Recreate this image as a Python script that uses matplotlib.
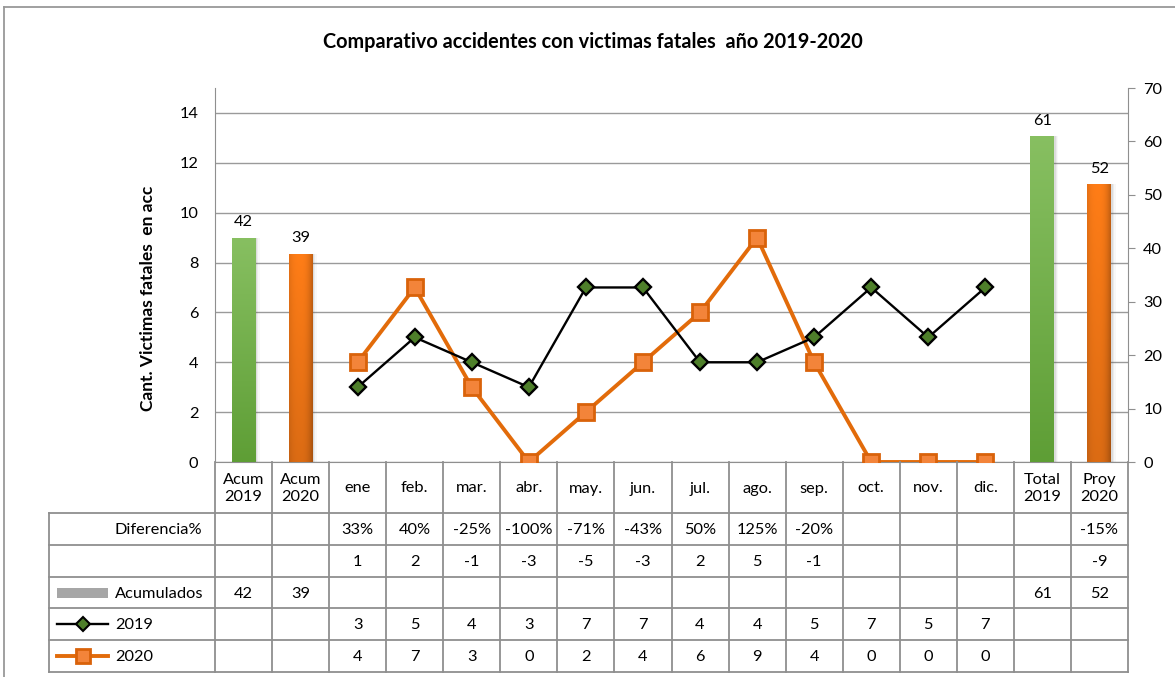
import numpy as np
import matplotlib
matplotlib.use("Agg")
import matplotlib.pyplot as plt
from matplotlib.transforms import Affine2D, blended_transform_factory
from matplotlib.lines import Line2D
from matplotlib.patches import Rectangle

plt.rcParams['font.family'] = ['Lato', 'DejaVu Sans']

# ---------------- data ----------------
categories = ["Acum\n2019", "Acum\n2020", "ene", "feb.", "mar.", "abr.", "may.", "jun.",
              "jul.", "ago.", "sep.", "oct.", "nov.", "dic.", "Total\n2019", "Proy\n2020"]
months = ["ene", "feb.", "mar.", "abr.", "may.", "jun.", "jul.", "ago.", "sep.", "oct.", "nov.", "dic."]
serie_2019 = [3, 5, 4, 3, 7, 7, 4, 4, 5, 7, 5, 7]
serie_2020 = [4, 7, 3, 0, 2, 4, 6, 9, 4, 0, 0, 0]
acum_labels = ["Acum\n2019", "Acum\n2020", "Total\n2019", "Proy\n2020"]
acumulados = [42, 39, 61, 52]
diferencia_pct = ["", "", "33%", "40%", "-25%", "-100%", "-71%", "-43%", "50%", "125%", "-20%",
                  "", "", "", "", "-15%"]
diferencia_abs = ["", "", "1", "2", "-1", "-3", "-5", "-3", "2", "5", "-1",
                  "", "", "", "", "-9"]
acum_row = ["42", "39", "", "", "", "", "", "", "", "", "", "", "", "", "61", "52"]
row_2019 = [""] * 2 + [str(v) for v in serie_2019] + [""] * 2
row_2020 = [""] * 2 + [str(v) for v in serie_2020] + [""] * 2
title = "Comparativo accidentes con victimas fatales  año 2019-2020"
ylabel = "Cant. Victimas fatales  en acc"

W, H = 1175, 677
fig = plt.figure(figsize=(W / 100, H / 100), dpi=100)
fig.patch.set_facecolor("white")

FS = 11.8

L, R, T, B = 215, 1128, 88, 462
ax = fig.add_axes([L / W, 1 - B / H, (R - L) / W, (B - T) / H])
ax2 = ax.twinx()

grid_c = "#9a9a9a"
line_c = "#8f8f8f"

x_month = np.array([categories.index(m) for m in months])
x_acum = np.array([categories.index(c) for c in acum_labels])

# lines (left axis)
ax.plot(x_month, serie_2020, color="#E26B0A", lw=2.8, marker="s", ms=11,
        mfc="#F3843A", mec="#D9620A", mew=2.0, zorder=5)
ax.plot(x_month, serie_2019, color="black", lw=1.7, marker="D", ms=8.5,
        mfc="#4E7F2A", mec="black", mew=1.7, zorder=6)

ax.set_ylim(0, 15)
ax.set_yticks(np.arange(0, 15, 2))
ax.set_xlim(-0.5, len(categories) - 0.5)
ax.set_xticks([])
ax.yaxis.grid(True, color=grid_c, lw=1)
ax.set_axisbelow(True)
ax.tick_params(axis="y", length=0, pad=12, labelsize=FS)
for s in ["top", "right"]:
    ax.spines[s].set_visible(False)
ax.spines["left"].set_color(line_c)
ax.spines["bottom"].set_color(line_c)

# bars (right axis)
bar_cols = ["#6FAE45", "#F07A1A", "#6FAE45", "#F07A1A"]
bars = ax2.bar(x_acum, acumulados, width=0.42, color=bar_cols, zorder=3, lw=0)
ax2.set_ylim(0, 70)
ax2.set_yticks(np.arange(0, 71, 10))
ax2.tick_params(axis="y", length=5, color=line_c, pad=6, labelsize=FS)
for s in ["top", "left", "bottom"]:
    ax2.spines[s].set_visible(False)
ax2.spines["right"].set_color(line_c)

# gradients + shadows
ny = 64
green_top = np.array([0.53, 0.75, 0.38])
green_bot = np.array([0.37, 0.62, 0.21])
t = np.linspace(0, 1, ny)[:, None]
green_img = (green_bot * (1 - t) + green_top * t)[:, None, :].repeat(8, axis=1)
nx = 32
u = np.linspace(-1, 1, nx)
prof = 1 - 0.10 * np.abs(u) ** 3 - 0.14 * np.clip(u, 0, None) ** 2
orange_base = np.array([1.0, 0.49, 0.09])
vt = 0.86 + 0.14 * np.linspace(0, 1, ny)[:, None]
orange_img = np.clip(orange_base[None, None, :] * prof[None, :, None] * vt[:, :, None], 0, 1)
for p, c in zip(bars, bar_cols):
    x0, y0, w, h = p.get_x(), p.get_y(), p.get_width(), p.get_height()
    for k, a in enumerate([0.10, 0.07, 0.04]):
        sh = Rectangle((x0 + w * (0.05 + 0.06 * k), y0), w, h, color="#555555",
                       alpha=a, lw=0, zorder=2)
        ax2.add_patch(sh)
    img = green_img if c == "#6FAE45" else orange_img
    im = ax2.imshow(img, extent=[x0, x0 + w, y0, y0 + h], origin="lower",
                    aspect="auto", zorder=3.5, interpolation="bilinear")
    im.set_clip_path(p)
    ax2.annotate(str(int(h)), (x0 + w / 2, y0 + h), xytext=(0, 6),
                 textcoords="offset points", ha="center", va="bottom", fontsize=FS)
ax2.set_ylim(0, 70)
ax.set_xlim(-0.5, len(categories) - 0.5)

# ---------------- table ----------------
tr_px = Affine2D().scale(1, -1).translate(0, H)
bt = blended_transform_factory(ax.transData, tr_px)

col_w = (R - L) / len(categories)
tab_left = 49
rows_y = [513, 545, 577, 608, 640, 672]

def hline(y, x0, x1):
    fig.add_artist(Line2D([x0, x1], [H - y, H - y], transform=None, color=line_c, lw=1.3))

def vline(x, y0, y1):
    fig.add_artist(Line2D([x, x], [H - y0, H - y1], transform=None, color=line_c, lw=1.3))

for y in rows_y:
    hline(y, tab_left, R)
vline(tab_left, rows_y[0], rows_y[-1])
vline(L, B, rows_y[-1])
vline(R, B, rows_y[-1])
for k in range(1, len(categories)):
    vline(L + k * col_w, B, rows_y[-1])

# category labels
for i, c in enumerate(categories):
    ax.text(i, (B + rows_y[0]) / 2 + 1, c, transform=bt, ha="center", va="center",
            fontsize=FS, linespacing=1.2)

table_rows = [diferencia_pct, diferencia_abs, acum_row, row_2019, row_2020]
row_names = ["Diferencia%", "", "Acumulados", "2019", "2020"]
for r, (vals, name) in enumerate(zip(table_rows, row_names)):
    yc = (rows_y[r] + rows_y[r + 1]) / 2 + 1
    for i, v in enumerate(vals):
        if v:
            ax.text(i, yc, v, transform=bt, ha="center", va="center", fontsize=FS)
    if name:
        fig.text(115 / W, 1 - yc / H, name, ha="left", va="center", fontsize=FS)

# legend keys in table
y_ac = (rows_y[2] + rows_y[3]) / 2
fig.add_artist(Rectangle((57, H - y_ac - 5), 51, 10, transform=None, color="#A6A6A6", lw=0))
y19 = (rows_y[3] + rows_y[4]) / 2
fig.add_artist(Line2D([57, 108], [H - y19, H - y19], transform=None, color="black", lw=1.7))
fig.add_artist(Line2D([83], [H - y19], transform=None, marker="D", ms=7, mfc="#4E7F2A",
                      mec="black", mew=1.5, lw=0))
y20 = (rows_y[4] + rows_y[5]) / 2
fig.add_artist(Line2D([57, 108], [H - y20, H - y20], transform=None, color="#E26B0A", lw=2.8))
fig.add_artist(Line2D([83], [H - y20], transform=None, marker="s", ms=9.5, mfc="#F3843A",
                      mec="#D9620A", mew=2.0, lw=0))

# title / ylabel
fig.text(593 / W, 1 - 42 / H, title, ha="center", va="center", fontsize=14.3, fontweight="bold")
fig.text(148 / W, 1 - 298 / H, ylabel, ha="center", va="center", rotation=90,
         fontsize=12.5, fontweight="bold")

# outer border (top and left visible)
fig.add_artist(Line2D([4, W], [H - 7, H - 7], transform=None, color="#999999", lw=1.3))
fig.add_artist(Line2D([4, 4], [H - 7, 0], transform=None, color="#999999", lw=1.3))

fig.savefig("out.png", dpi=100, facecolor="white")
